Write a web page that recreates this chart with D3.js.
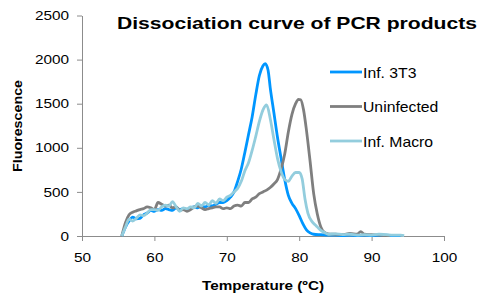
<!DOCTYPE html>
<html>
<head>
<meta charset="utf-8">
<script src="https://cdn.jsdelivr.net/npm/d3@7"></script>
<style>
	body { margin: 0; background: #fff; }
	svg { display: block; font-family: "Liberation Sans", Arial, sans-serif; }
	.axis path, .axis line { stroke: #8c8c8c; }
	.axis text { fill: #000; font-size: 13px; }
</style>
</head>
<body>
<div id="chart"></div>
<script>
// [temperature, fluorescence]
var inf3T3 = [
	[55.5,0],[56,100],[56.5,170],[57,215],[57.5,195],[58,200],[58.5,240],[59,260],[59.5,290],[60,280],
	[60.5,300],[61,290],[61.5,310],[62,300],[62.5,290],[63,320],[63.5,300],[64,310],[64.5,290],[65,320],
	[65.5,330],[66,320],[66.5,340],[67,330],[67.5,350],[68,340],[68.5,360],[69,380],[69.5,380],[70,400],
	[70.5,440],[71,500],[71.5,620],[72,760],[72.5,950],[73,1150],[73.5,1350],[74,1600],[74.5,1820],[75,1930],
	[75.3,1955],[75.7,1880],[76,1680],[76.5,1400],[77,1120],[77.5,880],[78,640],[78.5,460],[79,370],[79.5,310],
	[80,230],[80.5,140],[81,70],[81.5,35],[82,20],[83,15],[84,10],[85,10],[86,5],[87,10],[88,5],[89,10],
	[90,5],[91,5],[92,10],[93,5],[94,5]
];
var uninfected = [
	[55.5,0],[56,150],[56.5,240],[57,270],[57.5,285],[58,300],[58.5,310],[59,330],[59.5,320],[60,300],
	[60.5,380],[61,360],[61.5,340],[62,350],[62.5,320],[63,330],[63.5,290],[64,300],[64.5,280],[65,300],
	[65.5,330],[66,340],[66.5,320],[67,300],[67.5,310],[68,320],[68.5,330],[69,330],[69.5,310],[70,320],
	[70.5,310],[71,340],[71.5,350],[72,340],[72.5,380],[73,380],[73.5,420],[74,440],[74.5,480],[75,500],
	[75.5,520],[76,550],[76.5,590],[77,640],[77.5,760],[78,930],[78.5,1180],[79,1380],[79.5,1500],[79.9,1550],
	[80.2,1545],[80.6,1430],[81,1200],[81.5,850],[82,480],[82.5,250],[83,100],[83.5,40],[84,25],[85,20],
	[86,15],[87,30],[88,20],[88.5,50],[89,20],[90,15],[91,10],[92,5],[92.5,5]
];
var infMacro = [
	[55.5,0],[56,100],[56.5,190],[57,170],[57.5,200],[58,240],[58.5,230],[59,260],[59.5,300],[60,300],
	[60.5,290],[61,330],[61.5,350],[62,340],[62.5,390],[63,330],[63.5,280],[64,320],[64.5,310],[65,330],
	[65.5,320],[66,370],[66.5,340],[67,380],[67.5,350],[68,400],[68.5,370],[69,420],[69.5,400],[70,440],
	[70.5,460],[71,500],[71.5,540],[72,620],[72.5,740],[73,830],[73.5,970],[74,1130],[74.5,1300],[75,1430],
	[75.5,1485],[76,1330],[76.5,1100],[77,880],[77.5,730],[78,640],[78.5,620],[79,680],[79.5,720],[80,720],
	[80.4,650],[80.8,420],[81.2,260],[81.8,160],[82.3,120],[82.9,70],[83.6,35],[84,20],[85,25],[86,15],
	[87,20],[88,10],[89,15],[90,10],[91,20],[92,15],[93,10],[94,10],[94.5,5]
];

var seriesNames = ["Inf. 3T3", "Uninfected", "Inf. Macro"];
var seriesData = [inf3T3, uninfected, infMacro];
var seriesColors = ["#0096FF", "#7F7F7F", "#93CDDD"];

var xTicks = [50, 60, 70, 80, 90, 100];
var yTicks = [0, 500, 1000, 1500, 2000, 2500];

var width = 481, height = 296;
var svg = d3.select("#chart").append("svg")
	.attr("width", width)
	.attr("height", height);

var x = d3.scaleLinear().domain([50, 100]).range([82, 444]);
var y = d3.scaleLinear().domain([0, 2500]).range([236, 15.5]);

// stretch text horizontally a bit, like the original
function stretch(sel, k){
	sel.each(function(){
		var w = this.getComputedTextLength();
		d3.select(this).attr("textLength", w * k).attr("lengthAdjust", "spacingAndGlyphs");
	});
}

var gx = svg.append("g")
	.attr("class", "axis")
	.attr("transform", "translate(0," + y(0) + ")")
	.call(d3.axisBottom(x).tickValues(xTicks).tickSize(5).tickSizeOuter(0).tickPadding(12));
gx.selectAll("text").call(stretch, 1.18);

var gy = svg.append("g")
	.attr("class", "axis")
	.attr("transform", "translate(" + x(50) + ",0)")
	.call(d3.axisLeft(y).tickValues(yTicks).tickFormat(d3.format("d")).tickSize(5).tickSizeOuter(0).tickPadding(8));
gy.selectAll("text").call(stretch, 1.18);

var line = d3.line()
	.x(function(d){ return x(d[0]); })
	.y(function(d){ return y(d[1]); })
	.curve(d3.curveMonotoneX);

svg.append("g").selectAll("path")
		.data(seriesData)
	.enter().append("path")
		.attr("d", line)
		.attr("fill", "none")
		.attr("stroke", function(d, i){ return seriesColors[i]; })
		.attr("stroke-width", 2.8)
		.attr("stroke-linejoin", "round");

// title
svg.append("text")
	.attr("x", 117)
	.attr("y", 29)
	.style("font-size", "16.5px")
	.style("font-weight", "bold")
	.text("Dissociation curve of PCR products")
	.attr("textLength", 360)
	.attr("lengthAdjust", "spacingAndGlyphs");

// axis titles
svg.append("text")
	.attr("x", 263)
	.attr("y", 290)
	.attr("text-anchor", "middle")
	.style("font-size", "12.5px")
	.style("font-weight", "bold")
	.text("Temperature (ºC)")
	.attr("textLength", 122)
	.attr("lengthAdjust", "spacingAndGlyphs");

svg.append("text")
	.attr("transform", "translate(22,126) rotate(-90)")
	.attr("text-anchor", "middle")
	.style("font-size", "12.5px")
	.style("font-weight", "bold")
	.text("Fluorescence")
	.attr("textLength", 92)
	.attr("lengthAdjust", "spacingAndGlyphs");

// legend
var legend = svg.append("g").selectAll("g")
		.data(seriesNames)
	.enter().append("g")
		.attr("transform", function(d, i){ return "translate(330," + [72, 106.5, 141][i] + ")"; });

legend.append("line")
	.attr("x1", 0).attr("x2", 32)
	.attr("stroke", function(d, i){ return seriesColors[i]; })
	.attr("stroke-width", 2.8);

legend.append("text")
	.attr("x", 33)
	.attr("y", 5.5)
	.style("font-size", "15px")
	.text(function(d){ return d; })
	.call(stretch, 1.05);
</script>
</body>
</html>
